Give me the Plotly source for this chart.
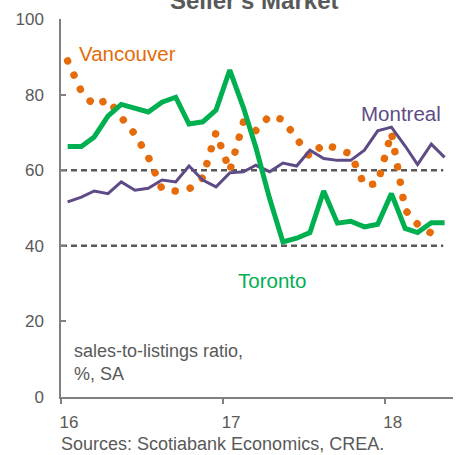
import pandas as pd
import plotly.graph_objects as go

# ---- data ----
months = [d.strftime("%Y-%m-16") for d in pd.date_range("2016-01-01", periods=29, freq="MS")]

toronto = [66.3, 66.3, 68.8, 74.3, 77.4, 76.3, 75.4, 78.0, 79.3, 72.2, 72.8, 75.9,
           86.5, 76.5, 66.0, 52.5, 41.0, 42.0, 43.5, 54.5, 46.0, 46.5, 45.0, 45.7,
           53.8, 44.6, 43.5, 46.1, 46.1]
montreal = [51.6, 52.9, 54.5, 53.8, 56.9, 54.7, 55.2, 57.4, 56.9, 61.1, 57.4, 55.6,
            59.3, 59.6, 61.3, 59.6, 61.9, 61.1, 65.3, 63.1, 62.6, 62.6, 65.3, 70.4,
            71.4, 66.4, 61.5, 66.9, 63.4]
vancouver = [88.9, 80.8, 77.1, 78.7, 74.0, 69.5, 63.5, 55.0, 54.5, 55.0, 58.0, 70.0,
             59.8, 72.8, 70.5, 74.4, 73.4, 68.0, 63.5, 67.0, 65.5, 64.3, 56.0, 56.5,
             70.0, 49.5, 45.7, 43.3, 43.0]

tick_vals = ["2016-01-01", "2017-01-01", "2018-01-01"]
tick_text = ["16", "17", "18"]
thresholds = [60, 40]

ORANGE = "#E46C0A"
GREEN = "#00B050"
PURPLE = "#5E4B86"
GRAY = "#595959"
AXIS = "#808080"
FONT = "Liberation Sans, Arial, sans-serif"

fig = go.Figure()
fig.add_trace(go.Scatter(x=months, y=vancouver, mode="lines", name="Vancouver",
                         line=dict(color=ORANGE, width=7.5, dash="0.01px,15.5px")))
fig.add_trace(go.Scatter(x=months, y=montreal, mode="lines", name="Montreal",
                         line=dict(color=PURPLE, width=3)))
fig.add_trace(go.Scatter(x=months, y=toronto, mode="lines", name="Toronto",
                         line=dict(color=GREEN, width=5)))

for t in thresholds:
    fig.add_shape(type="line", xref="x", yref="y", x0="2016-01-01", x1="2018-05-13",
                  y0=t, y1=t, layer="below",
                  line=dict(color=GRAY, width=2.5, dash="6px,4px"))

ann = [
    dict(text="Vancouver", x=0.0442, y=0.910, color=ORANGE, size=20.5, ya="middle"),
    dict(text="Montreal", x=0.763, y=0.7505, color=PURPLE, size=20.5, ya="middle"),
    dict(text="Toronto", x=0.4486, y=0.3069, color=GREEN, size=20.5, ya="middle"),
    dict(text="sales-to-listings ratio,<br>%, SA", x=0.0299, y=0.0905, color=GRAY, size=18, ya="middle"),
    dict(text="Sources: Scotiabank Economics, CREA.", x=-0.0026, y=-58 / 378, color=GRAY, size=18, ya="bottom"),
]
for a in ann:
    fig.add_annotation(text=a["text"], xref="paper", yref="paper", x=a["x"], y=a["y"],
                       xanchor="left", yanchor=a["ya"], showarrow=False, align="left",
                       borderpad=0,
                       font=dict(family=FONT, size=a["size"], color=a["color"]))

fig.add_annotation(text="<b>Seller's Market</b>", xref="paper", yref="paper",
                   x=0.4914, y=1.05, xanchor="center", yanchor="middle", showarrow=False,
                   font=dict(family=FONT, size=24, color=GRAY))

fig.update_layout(
    width=462, height=455,
    margin=dict(l=61, r=9.3, t=19, b=58),
    paper_bgcolor="white", plot_bgcolor="white",
    showlegend=False,
    font=dict(family=FONT, size=17, color=GRAY),
    xaxis=dict(range=["2016-01-01", "2018-06-04"], tickvals=tick_vals, ticktext=tick_text,
               showline=True, linecolor=AXIS, linewidth=1.5, ticks="outside", ticklen=5,
               tickcolor=AXIS, tickwidth=1.5, showgrid=False, zeroline=False,
               ticklabelshift=8, ticklabelstandoff=4, tickfont=dict(size=17, color=GRAY)),
    yaxis=dict(range=[0, 100], tickvals=[0, 20, 40, 60, 80, 100],
               showline=True, linecolor=AXIS, linewidth=1.5, ticks="inside", ticklen=5,
               tickcolor=AXIS, tickwidth=1.5, showgrid=False, zeroline=False,
               ticklabelstandoff=12, tickfont=dict(size=17, color=GRAY)),
)

post = """
document.body.style.margin = '0';
document.body.style.padding = '0';
document.body.style.overflow = 'hidden';
var gd = document.getElementById('{plot_id}');
function roundDots(){
  gd.querySelectorAll('.scatterlayer .trace path.js-line').forEach(function(p){
    var s = p.style.strokeDasharray || '';
    if (s && s !== 'none') { p.style.strokeLinecap = 'round'; }
  });
}
roundDots();
if (gd.on) { gd.on('plotly_afterplot', roundDots); }
"""
fig.write_html("out.html", post_script=post, config={"displayModeBar": False})
